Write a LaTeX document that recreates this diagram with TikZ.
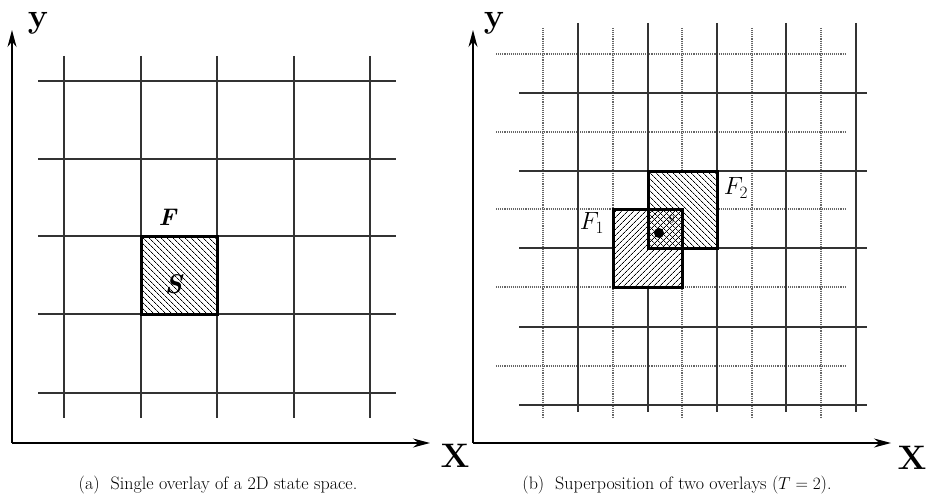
\documentclass[tikz,border=0pt]{standalone}
\usetikzlibrary{arrows.meta,patterns.meta}
\begin{document}
\begin{tikzpicture}[x=1pt,y=-1pt,
  gridline/.style={line width=1.1pt,black!80},
  dotline/.style={line width=1.1pt,black!60,densely dotted},
  axisline/.style={line width=1.1pt,-{Stealth[length=17pt,width=9pt]}},
  boxF/.style={line width=3pt},
  axlabel/.style={font=\fontsize{34}{34}\selectfont\bfseries,inner sep=0pt},
  flabel/.style={font=\fontsize{24}{24}\selectfont,inner sep=0pt},
  caplabel/.style={font=\fontsize{18}{20}\selectfont,inner sep=0pt}]
\useasboundingbox (0,0) rectangle (926,500);
% ---------- left panel ----------
\foreach \x in {64,141,217,294,370} \draw[gridline] (\x,56) -- (\x,418);
\foreach \y in {81,159,236,314,393} \draw[gridline] (38,\y) -- (396,\y);
\fill[pattern={Lines[angle=-45,distance=4pt,line width=0.8pt]}] (141,236) rectangle (217,314);
\draw[boxF] (141,236) rectangle (217,314);
\node[flabel] (F) at (168,217) {\textbf{\textit{F}}};
\node[font=\fontsize{27}{27}\selectfont,inner sep=0pt] (S) at (174,284) {\textbf{\textit{S}}};
\coordinate (oA) at (12,443);
\coordinate (yA) at (12,30);
\coordinate (xA) at (430,443);
\draw[axisline] (oA) -- (yA);
\draw[axisline] (oA) -- (xA);
\node[axlabel] (ylA) at (38,23) {y};
\node[axlabel] (xlA) at (455,456) {X};
\node[caplabel] (capA) at (218,485) {(a)\ \ Single overlay of a 2D state space.};
% ---------- right panel ----------
\foreach \x in {543,613,682,752,821} \draw[dotline] (\x,28) -- (\x,418);
\foreach \y in {54,132,209,287,366} \draw[dotline] (496,\y) -- (845,\y);
\foreach \x in {578,648,717,786,856} \draw[gridline] (\x,23) -- (\x,412);
\foreach \y in {93,171,248,327,405} \draw[gridline] (519,\y) -- (867,\y);
\fill[white] (613,209) rectangle (682,287);
\fill[white] (648,171) rectangle (717,248);
\fill[pattern={Lines[angle=45,distance=4pt,line width=0.8pt]}] (613,209) rectangle (682,287);
\fill[pattern={Lines[angle=-45,distance=4pt,line width=0.8pt]}] (648,171) rectangle (717,248);
\draw[boxF] (613,209) rectangle (682,287);
\draw[boxF] (648,171) rectangle (717,248);
\fill (659,233) circle (5);
\node[font=\fontsize{16}{16}\selectfont,inner sep=0pt] (s) at (671,220) {$s$};
\node[flabel] (F1) at (592,223) {$F_1$};
\node[flabel] (F2) at (736,188) {$F_2$};
\coordinate (oB) at (473,443);
\coordinate (yB) at (473,30);
\coordinate (xB) at (891,443);
\draw[axisline] (oB) -- (yB);
\draw[axisline] (oB) -- (xB);
\node[axlabel] (ylB) at (494,23) {y};
\node[axlabel] (xlB) at (912,458) {X};
\node[caplabel] (capB) at (677,485) {(b)\ \ Superposition of two overlays ($T=2$).};
\end{tikzpicture}
\end{document}
